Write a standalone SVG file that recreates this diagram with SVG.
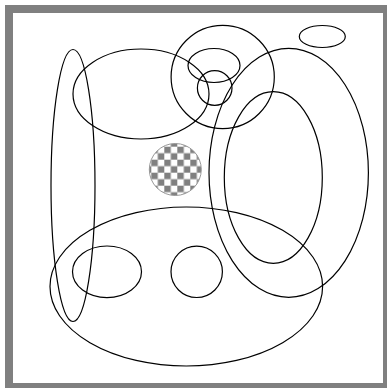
<svg xmlns="http://www.w3.org/2000/svg" width="387" height="388" viewBox="0 0 387 388">
<defs>
<style>
.sh{fill:none;stroke:#000;stroke-width:1.2}
.frame{fill:#fff;stroke:#808080;stroke-width:8}
</style>
<pattern id="chk" patternUnits="userSpaceOnUse" x="151.3" y="146.7" width="13" height="13">
<rect width="13" height="13" fill="#fff"/>
<rect width="6.5" height="6.5" fill="#808080"/>
<rect x="6.5" y="6.5" width="6.5" height="6.5" fill="#808080"/>
</pattern>
</defs>
<rect class="frame" x="9" y="9" width="378" height="378"/>
<g id="nodes">
<g id="n1"><ellipse class="sh" cx="73" cy="185.5" rx="22" ry="136"/></g>
<g id="n2"><ellipse class="sh" cx="141" cy="94" rx="68" ry="45"/></g>
<g id="n3"><circle class="sh" cx="222.7" cy="77" r="51.6"/></g>
<g id="n4"><ellipse class="sh" cx="214" cy="65.5" rx="26" ry="17"/></g>
<g id="n5"><circle class="sh" cx="214.7" cy="88" r="17.3"/></g>
<g id="n6"><ellipse class="sh" cx="322.3" cy="36.5" rx="23" ry="11"/></g>
<g id="n7"><ellipse class="sh" cx="288.7" cy="172.8" rx="79.7" ry="124.5"/></g>
<g id="n8"><ellipse class="sh" cx="273.3" cy="177.5" rx="49" ry="85.8"/></g>
<g id="n9"><ellipse class="sh" cx="186.3" cy="286.5" rx="136.3" ry="79.5"/></g>
<g id="n10"><ellipse class="sh" cx="107" cy="271.8" rx="34.5" ry="25.8"/></g>
<g id="n11"><circle class="sh" cx="196.7" cy="271.8" r="25.7"/></g>
<g id="n12"><circle cx="175.3" cy="169.5" r="26" fill="url(#chk)" stroke="#999" stroke-width="1"/></g>
</g>
<g id="connectors"></g>
</svg>
